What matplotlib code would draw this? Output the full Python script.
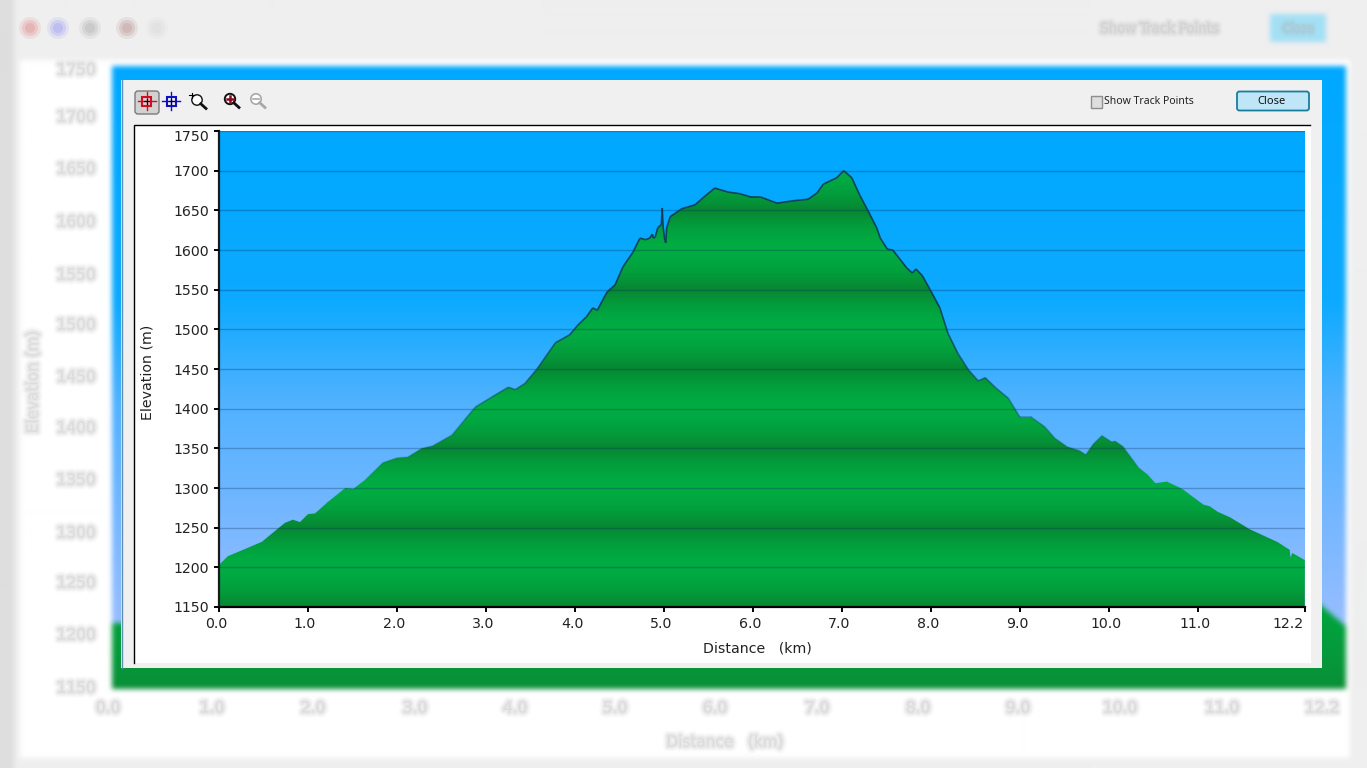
import numpy as np
import matplotlib
matplotlib.use("Agg")
import matplotlib.pyplot as plt
import matplotlib.patheffects as pe
from matplotlib.collections import LineCollection
from matplotlib.colors import to_rgb
from matplotlib.patches import Rectangle, Circle, FancyBboxPatch
from matplotlib.transforms import ScaledTranslation

distance_km = [0.0, 0.10, 0.27, 0.48, 0.60, 0.74, 0.83, 0.91, 1.00, 1.08, 1.22, 1.42, 1.51, 1.64, 1.84, 2.00,
               2.12, 2.28, 2.40, 2.62, 2.76, 2.88, 3.07, 3.25, 3.33, 3.44, 3.58, 3.78, 3.94, 4.03, 4.13, 4.20,
               4.25, 4.36, 4.45, 4.54, 4.65, 4.73, 4.79, 4.84, 4.87, 4.88, 4.90, 4.93, 4.97, 4.98, 4.99, 5.01,
               5.02, 5.03, 5.07, 5.20, 5.35, 5.44, 5.57, 5.72, 5.85, 5.97, 6.08, 6.27, 6.45, 6.62, 6.72, 6.79,
               6.94, 7.02, 7.11, 7.20, 7.29, 7.39, 7.43, 7.51, 7.57, 7.73, 7.79, 7.83, 7.90, 7.99, 8.10, 8.19,
               8.30, 8.42, 8.53, 8.61, 8.72, 8.87, 9.00, 9.13, 9.28, 9.39, 9.53, 9.67, 9.74, 9.82, 9.92, 10.03,
               10.07, 10.16, 10.33, 10.44, 10.52, 10.65, 10.82, 11.06, 11.13, 11.22, 11.36, 11.58, 11.89, 12.03,
               12.04, 12.06, 12.20]
elevation_m = [1203, 1214, 1222, 1232, 1243, 1256, 1260, 1257, 1267, 1268, 1282, 1300, 1299, 1310, 1332, 1338,
               1339, 1350, 1353, 1367, 1386, 1402, 1415, 1427, 1424, 1432, 1451, 1483, 1493, 1505, 1516, 1527,
               1524, 1547, 1556, 1579, 1597, 1615, 1613, 1615, 1620, 1615, 1616, 1628, 1632, 1653, 1629, 1612,
               1609, 1628, 1642, 1652, 1657, 1666, 1678, 1673, 1671, 1667, 1667, 1659, 1662, 1664, 1672, 1683,
               1691, 1700, 1691, 1669, 1650, 1628, 1615, 1601, 1600, 1577, 1571, 1576, 1568, 1550, 1527, 1495,
               1470, 1449, 1435, 1439, 1427, 1413, 1389, 1389, 1377, 1363, 1352, 1347, 1342, 1355, 1366, 1358,
               1359, 1352, 1326, 1316, 1306, 1308, 1299, 1279, 1277, 1270, 1263, 1248, 1232, 1222,
               1212, 1218, 1209]
y_ticks = [1150, 1200, 1250, 1300, 1350, 1400, 1450, 1500, 1550, 1600, 1650, 1700, 1750]
x_ticks = [0.0, 1.0, 2.0, 3.0, 4.0, 5.0, 6.0, 7.0, 8.0, 9.0, 10.0, 11.0, 12.2]
x_tick_labels = ["0.0", "1.0", "2.0", "3.0", "4.0", "5.0", "6.0", "7.0", "8.0", "9.0", "10.0", "11.0", "12.2"]

W, H = 1367, 768
fig = plt.figure(figsize=(W / 100, H / 100), dpi=100, facecolor="#EFEFEF")
plt.rcParams["font.family"] = ["DejaVu Sans"]


def rgb(h):
    return np.array(to_rgb(h))


def lerp_colors(pos, stops, colors):
    arr = np.array([rgb(c) for c in colors])
    return np.stack([np.interp(pos, stops, arr[:, i]) for i in range(3)], axis=-1)


def box_blur(a, r, axis):
    pad = [(0, 0)] * a.ndim
    pad[axis] = (r + 1, r)
    c = np.cumsum(np.pad(a, pad, mode="edge"), axis=axis)
    n = a.shape[axis]
    hi = np.take(c, np.arange(2 * r + 1, n + 2 * r + 1), axis=axis)
    lo = np.take(c, np.arange(0, n), axis=axis)
    return (hi - lo) / (2 * r + 1)


def blur(a, r=3, passes=3):
    for _ in range(passes):
        a = box_blur(box_blur(a, r, 0), r, 1)
    return a


SKY_STOPS = [131, 300, 400, 500, 607]
SKY_COLORS = ["#00A8FF", "#0CAAFF", "#50B2FF", "#70B6FF", "#98BDFF"]

# ---------- blurred window behind the dialog ----------
yy, xx = np.mgrid[0:H, 0:W]
bg = np.ones((H, W, 3)) * rgb("#EFEFEF")
bg[:, :14] = rgb("#DEDEDE")
bg[(yy >= 60) & (yy < 758) & (xx >= 20) & (xx < 1350)] = rgb("#FFFFFF")
sky_back = lerp_colors(yy, [65, 300, 400, 500, 625], SKY_COLORS)
m = (yy >= 66) & (yy < 689) & (xx >= 112) & (xx < 1346)
bg[m] = sky_back[m]
edge = 606 + (xx - 1322) * 0.85
green_back = lerp_colors(yy, [600, 660, 689], ["#00A63F", "#05983A", "#0B8E38"])
gm = m & (((xx < 130) & (yy >= 623)) | ((xx > 1200) & (yy >= edge)) | (yy >= 650))
bg[gm] = green_back[gm]
btn = (yy >= 14) & (yy < 42) & (xx >= 1270) & (xx < 1326)
bg[btn] = rgb("#A4E0F5")
bg = np.clip(blur(bg, 2, 3), 0, 1)

over = fig.add_axes([0, 0, 1, 1], zorder=0)
over.imshow(bg, extent=(0, W, H, 0), aspect="auto", interpolation="nearest", zorder=0)
over.set_xlim(0, W)
over.set_ylim(H, 0)
over.axis("off")

soft = [pe.Stroke(linewidth=7, foreground="#B0B0B0", alpha=0.07),
        pe.Stroke(linewidth=4.5, foreground="#B0B0B0", alpha=0.10),
        pe.Stroke(linewidth=2.5, foreground="#A8A8A8", alpha=0.12)]


def blurred_text(x, y, s, size=11, **kw):
    t = over.text(x, y, s, fontsize=size, color="#C8C8C8", ha="center", va="center", zorder=1, alpha=0.22, **kw)
    t.set_path_effects(soft)


back_y = [688, 635, 583, 533, 480, 428, 377, 325, 275, 222, 169, 117, 70]
for py, lab in zip(back_y, y_ticks):
    blurred_text(76, py, str(lab))
back_x = [108, 212, 313, 415, 515, 615, 715, 817, 918, 1018, 1120, 1222, 1322]
for px, lab in zip(back_x, x_tick_labels):
    blurred_text(px, 708, lab)
blurred_text(33, 382, "Elevation (m)", rotation=90)
blurred_text(725, 742, "Distance   (km)")
blurred_text(1160, 29, "Show Track Points", size=9.5)
blurred_text(1298, 29, "Close", size=8)
for (cx, col) in [(30, "#E08A8A"), (58, "#9A9AF0"), (90, "#B0B0B0"), (127, "#B89090"), (157, "#DADADA")]:
    for r, a in [(11, 0.16), (8, 0.25), (5, 0.3)]:
        over.add_patch(Circle((cx, 28), r, fc=col, ec="none", alpha=a, zorder=1))

# ---------- dialog ----------
over.add_patch(Rectangle((121, 80), 1201, 588, fc="#F0F0F0", ec="none", zorder=2))
over.plot([121.5, 121.5], [80, 668], color="#5C8FB0", lw=1, zorder=3)
over.add_patch(Rectangle((134, 125), 1177, 538, fc="#FFFFFF", ec="none", zorder=3))
over.plot([133.5, 133.5, 1310], [663, 124.5, 124.5], color="#000000", lw=1, zorder=4, solid_joinstyle="miter")

# toolbar icons
over.add_patch(FancyBboxPatch((136, 92), 22, 21, boxstyle="round,pad=1,rounding_size=3",
                              fc="#D2D2D2", ec="#7A7A7A", lw=1, zorder=4))


def crosshair(cx, cy, col):
    over.plot([cx - 9, cx + 9], [cy, cy], color=col, lw=1, zorder=5)
    over.plot([cx, cx], [cy - 9, cy + 9], color=col, lw=1, zorder=5)
    over.add_patch(Rectangle((cx - 4.5, cy - 4.5), 9, 9, fc="none", ec=col, lw=1.5, zorder=5))
    over.plot([cx - 2.5, cx + 2.5], [cy, cy], color="k", lw=0.8, zorder=6)
    over.plot([cx, cx], [cy - 2.5, cy + 2.5], color="k", lw=0.8, zorder=6)


crosshair(146.5, 101, "#D01020")
crosshair(171, 101, "#1010C0")


def lens(cx, cy, col, lw=1.2):
    over.add_patch(Circle((cx, cy), 5.2, fc="white", ec=col, lw=lw, zorder=5))
    over.plot([cx + 3.8, cx + 9], [cy + 3.8, cy + 8.5], color=col, lw=2, zorder=5)


lens(197, 100, "#111111", 1)
over.plot([189, 194], [95, 95], color="k", lw=0.8, zorder=6)
over.plot([191.5, 191.5], [92.5, 97.5], color="k", lw=0.8, zorder=6)
lens(230, 99, "#111111", 1.4)
over.plot([227, 233], [99, 99], color="#8B0A1A", lw=1.8, zorder=6)
over.plot([230, 230], [96, 102], color="#8B0A1A", lw=1.8, zorder=6)
lens(256, 99, "#A8A8A8", 1.2)
over.plot([253, 259], [99, 99], color="#A8A8A8", lw=1.2, zorder=6)

# checkbox and button
over.add_patch(Rectangle((1090.5, 96), 11, 12, fc="#DEDEDE", ec="#8E8E8E", lw=1, zorder=4))
over.text(1104.5, 102, "Show Track Points", fontsize=7.5, family="Noto Sans", color="#222222",
          ha="left", va="center", zorder=5)
over.add_patch(FancyBboxPatch((1238, 92.5), 70, 17, boxstyle="round,pad=1,rounding_size=2.5",
                              fc="#BEE6F6", ec="#177E9C", lw=1.3, zorder=4))
over.text(1271.5, 101, "Close", fontsize=8, family="Noto Sans", color="#111111",
          ha="center", va="center", zorder=5)

# ---------- the chart ----------
LEFT, RIGHT, TOP, BOTTOM = 219, 1304.8, 131, 607
ax = fig.add_axes([LEFT / W, (H - BOTTOM) / H, (RIGHT - LEFT) / W, (BOTTOM - TOP) / H], zorder=2)
ax.patch.set_alpha(0)

px_rows = np.arange(TOP, BOTTOM)
sky = lerp_colors(px_rows, SKY_STOPS, SKY_COLORS)[:, None, :]
ax.imshow(sky, extent=(0, 12.2, 1150, 1750), origin="upper", aspect="auto", interpolation="bilinear", zorder=0)

band_m = np.arange(1150, 1750, 1.0)
band_pos = np.abs(((band_m - 1150) % 100) - 50) / 50.0   # 0 at the light bands, 1 at the dark ones
band_pos = band_pos ** 1.7
green = lerp_colors(band_pos[::-1], [0, 1], ["#00AC43", "#078632"])[:, None, :]
grad = ax.imshow(green, extent=(0, 12.2, 1150, 1750), origin="upper", aspect="auto",
                 interpolation="bilinear", zorder=1)
hill = ax.fill_between(distance_km, elevation_m, 1150, facecolor="none", edgecolor="none", zorder=1)
grad.set_clip_path(hill.get_paths()[0], transform=ax.transData)

ax.yaxis.grid(True, color="#04305A", alpha=0.30, lw=1)
ax.xaxis.grid(False)
ax.set_axisbelow(False)

pts = np.column_stack([distance_km, elevation_m]).reshape(-1, 1, 2)
segs = np.concatenate([pts[:-1], pts[1:]], axis=1)
mid = (np.array(elevation_m[:-1]) + np.array(elevation_m[1:])) / 2
alphas = np.clip((mid - 1300) / 260, 0.03, 0.9)
seg_cols = np.column_stack([np.tile(rgb("#0B3A55"), (len(mid), 1)), alphas])
ax.add_collection(LineCollection(segs, colors=seg_cols, linewidths=1.2, zorder=3))

ax.set_xlim(0, 12.2)
ax.set_ylim(1150, 1750)
ax.set_yticks(y_ticks)
ax.set_xticks(x_ticks)
ax.set_xticklabels(x_tick_labels)
ax.tick_params(axis="both", length=3.6, width=1.4, labelsize=10.2, color="#000000", labelcolor="#222222", pad=3.5)
for s in ("top", "right"):
    ax.spines[s].set_visible(False)
ax.spines["left"].set_linewidth(1.6)
ax.spines["bottom"].set_linewidth(1.6)
ax.spines["left"].set_color("#1A1A1A")

px = fig.dpi_scale_trans
for lab in ax.get_xticklabels():
    lab.set_transform(lab.get_transform() + ScaledTranslation(-3 / 100, 0, px))
last = ax.get_xticklabels()[-1]
last.set_transform(last.get_transform() + ScaledTranslation(-14 / 100, 0, px))
top = ax.get_yticklabels()[-1]
top.set_transform(top.get_transform() + ScaledTranslation(0, -4 / 100, px))

ax.set_xlabel("Distance   (km)", fontsize=10.2, color="#222222", va="center", ha="center")
ax.xaxis.set_label_coords((757 - LEFT) / (RIGHT - LEFT), -(648 - BOTTOM) / (BOTTOM - TOP))
ax.set_ylabel("Elevation (m)", fontsize=10.2, color="#222222", va="center", ha="center")
ax.yaxis.set_label_coords((148 - LEFT) / (RIGHT - LEFT), (BOTTOM - 372) / (BOTTOM - TOP))

fig.savefig("out.png", dpi=100)
